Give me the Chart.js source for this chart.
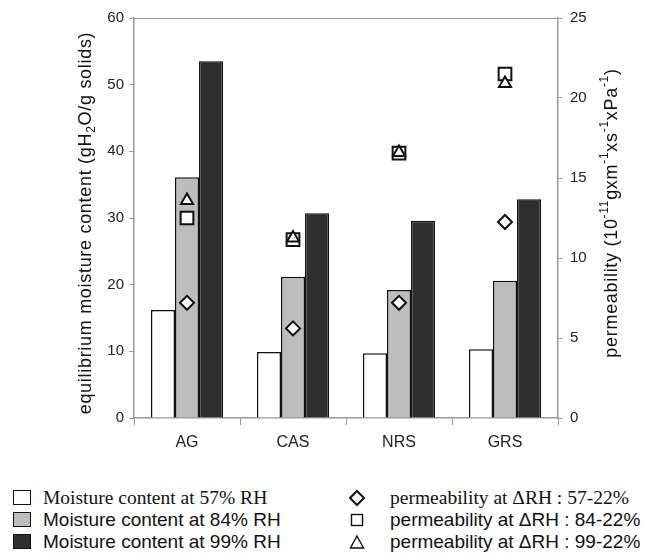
<!DOCTYPE html>
<html>
<head>
<meta charset="utf-8">
<script src="https://cdn.jsdelivr.net/npm/chart.js@4.4.0/dist/chart.umd.min.js"></script>
<style>
  body { margin: 0; background: #fff; width: 647px; height: 556px; position: relative; overflow: hidden; }
  #moistureChart { position: absolute; left: 0; top: 0; }
  .leyenda { position: absolute; top: 487px; font-family: "Liberation Sans", Arial, sans-serif; font-size: 19px; color: #111; }
  .fila { height: 22px; line-height: 22px; white-space: nowrap; position: relative; }
  .serif { font-family: "Liberation Serif", "Times New Roman", serif; font-size: 19.5px; }
  .caja { position: absolute; left: 0; top: 3px; width: 18px; height: 15px; border: 1.5px solid #111; box-sizing: border-box; }
  .simbolo { position: absolute; left: 0; top: 0; width: 24px; height: 22px; }
</style>
</head>
<body>
<canvas id="moistureChart" width="647" height="470"></canvas>

<div class="leyenda" style="left:13px;">
  <div class="fila serif"><span class="caja" style="background:#ffffff"></span><span style="margin-left:30px">Moisture content at 57% RH</span></div>
  <div class="fila"><span class="caja" style="background:#bdbdbd"></span><span style="margin-left:30px">Moisture content at 84% RH</span></div>
  <div class="fila"><span class="caja" style="background:#2e2e2e"></span><span style="margin-left:30px">Moisture content at 99% RH</span></div>
</div>
<div class="leyenda" style="left:345px;">
  <div class="fila serif"><svg class="simbolo" viewBox="0 0 24 22"><polygon points="12,4 19,11 12,18 5,11" fill="#fff" stroke="#111" stroke-width="2"/></svg><span style="margin-left:45px">permeability at ΔRH : 57-22%</span></div>
  <div class="fila"><svg class="simbolo" viewBox="0 0 24 22"><rect x="6.5" y="5.5" width="11" height="11" fill="#fff" stroke="#111" stroke-width="1.4"/></svg><span style="margin-left:45px">permeability at ΔRH : 84-22%</span></div>
  <div class="fila"><svg class="simbolo" viewBox="0 0 24 22"><polygon points="12,5 18.5,17 5.5,17" fill="#fff" stroke="#111" stroke-width="1.4"/></svg><span style="margin-left:45px">permeability at ΔRH : 99-22%</span></div>
</div>

<script>
// Datos
const muestras = ["AG", "CAS", "NRS", "GRS"];

// contenido de humedad de equilibrio (gH2O/g sólidos)
const humedad57 = [16.2, 9.9, 9.7, 10.3];
const humedad84 = [36.1, 21.2, 19.2, 20.6];
const humedad99 = [53.5, 30.7, 29.6, 32.8];

// permeabilidad (10^-11 g m^-1 s^-1 Pa^-1)
const perm57 = [7.2, 5.6, 7.2, 12.25];
const perm84 = [12.5, 11.15, 16.55, 21.5];
const perm99 = [13.6, 11.25, 16.6, 20.9];

// Títulos de ejes con subíndices / superíndices: [texto, tipo]
const tituloIzq = [["equilibrium moisture content (gH", ""], ["2", "sub"], ["O/g solids)", ""]];
const tituloDer = [["permeability (10", ""], ["-11", "sup"], ["gxm", ""], ["-1", "sup"], ["xs", ""], ["-1", "sup"], ["xPa", ""], ["-1", "sup"], [")", ""]];

const fuente = "'Liberation Sans', Arial, sans-serif";
const colorEje = "#9a9a9a";

// Dibuja un texto girado -90° (de abajo hacia arriba) con partes sub/sup
function textoVertical(ctx, partes, cx, cy, size) {
  ctx.save();
  ctx.translate(cx, cy);
  ctx.rotate(-Math.PI / 2);
  ctx.fillStyle = "#111";
  ctx.textBaseline = "middle";
  ctx.textAlign = "left";
  try { ctx.letterSpacing = "0.7px"; } catch (e) {}
  const fontDe = (t) => (t ? Math.round(size * 0.68) : size) + "px " + fuente;
  let total = 0;
  partes.forEach(([txt, t]) => { ctx.font = fontDe(t); total += ctx.measureText(txt).width; });
  let x = -total / 2;
  partes.forEach(([txt, t]) => {
    ctx.font = fontDe(t);
    const dy = t === "sub" ? size * 0.3 : t === "sup" ? -size * 0.38 : 0;
    ctx.fillText(txt, x, dy);
    x += ctx.measureText(txt).width;
  });
  ctx.restore();
}

const titulosEjes = {
  id: "titulosEjes",
  afterDraw(chart) {
    const c = chart.ctx;
    textoVertical(c, tituloIzq, 86, 223, 18);
    textoVertical(c, tituloDer, 612, 213, 18);
  },
};

const ctx = document.getElementById("moistureChart").getContext("2d");
const moistureChart = new Chart(ctx, {
  type: "bar",
  data: {
    labels: muestras,
    datasets: [
      { label: "Moisture content at 57% RH", data: humedad57, backgroundColor: "#ffffff", borderColor: "#111", borderWidth: 1.5, yAxisID: "y", order: 5 },
      { label: "Moisture content at 84% RH", data: humedad84, backgroundColor: "#bdbdbd", borderColor: "#111", borderWidth: 1.5, yAxisID: "y", order: 5 },
      { label: "Moisture content at 99% RH", data: humedad99, backgroundColor: "#2e2e2e", borderColor: "#111", borderWidth: 1.5, yAxisID: "y", order: 5 },
      { type: "line", label: "permeability at ΔRH : 57-22%", data: perm57, showLine: false, yAxisID: "y2", order: 3,
        pointStyle: "rectRot", pointRadius: 7, pointBackgroundColor: "#fff", pointBorderColor: "#111", pointBorderWidth: 2 },
      { type: "line", label: "permeability at ΔRH : 84-22%", data: perm84, showLine: false, yAxisID: "y2", order: 2,
        pointStyle: "rect", pointRadius: 9, pointBackgroundColor: "#fff", pointBorderColor: "#111", pointBorderWidth: 2 },
      { type: "line", label: "permeability at ΔRH : 99-22%", data: perm99, showLine: false, yAxisID: "y2", order: 1,
        pointStyle: "triangle", pointRadius: 7, pointBackgroundColor: "#fff", pointBorderColor: "#111", pointBorderWidth: 2 },
    ],
  },
  options: {
    responsive: false,
    animation: false,
    devicePixelRatio: 1,
    layout: { padding: { top: 18, left: 0, right: 0, bottom: 0 } },
    datasets: {
      bar: { categoryPercentage: 0.68, barPercentage: 1.0 },
    },
    plugins: {
      legend: { display: false },
      tooltip: { enabled: false },
    },
    scales: {
      x: {
        position: "bottom",
        grid: { offset: true, drawOnChartArea: false, tickLength: 7, color: colorEje },
        border: { color: colorEje, width: 1.5 },
        ticks: { font: { family: fuente, size: 16 }, color: "#222", padding: 8 },
        afterFit: (scale) => { scale.height = 52; },
      },
      y: {
        position: "left",
        min: 0,
        max: 60,
        ticks: { stepSize: 10, font: { family: fuente, size: 15 }, color: "#222", padding: 5 },
        grid: {
          tickLength: 5,
          color: (c) => (c.tick && c.tick.value === 60 ? colorEje : "rgba(0,0,0,0)"),
          tickColor: colorEje,
        },
        border: { color: colorEje, width: 1.5 },
        afterFit: (scale) => { scale.width = 134; },
      },
      y2: {
        position: "right",
        min: 0,
        max: 25,
        ticks: { stepSize: 5, font: { family: fuente, size: 15 }, color: "#222", padding: 8 },
        grid: { drawOnChartArea: false, tickLength: 4, color: colorEje },
        border: { color: colorEje, width: 1.5 },
        afterFit: (scale) => { scale.width = 89; },
      },
    },
  },
  plugins: [titulosEjes],
});
</script>
</body>
</html>
